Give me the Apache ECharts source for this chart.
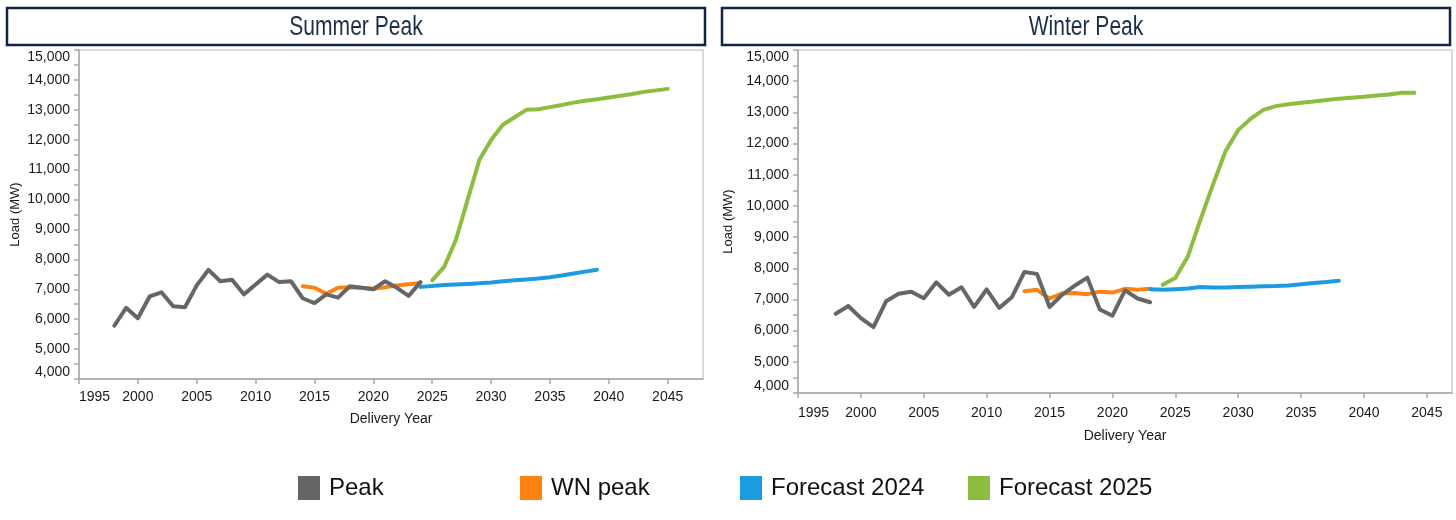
<!DOCTYPE html>
<html>
<head>
<meta charset="utf-8">
<script src="https://cdn.jsdelivr.net/npm/echarts@6/dist/echarts.min.js"></script>
<style>
  html, body { margin: 0; padding: 0; background: #fff; }
  #main { width: 1456px; height: 520px; }
</style>
</head>
<body>
<div id="main"></div>
<script>
// summer peak
var summerPeakYears = [1998,1999,2000,2001,2002,2003,2004,2005,2006,2007,2008,2009,2010,2011,2012,2013,2014,2015,2016,2017,2018,2019,2020,2021,2022,2023,2024];
var summerPeak = [5780,6380,6030,6760,6900,6430,6400,7130,7650,7270,7320,6830,7160,7490,7240,7270,6700,6540,6830,6720,7100,7050,7000,7270,7050,6780,7240];
var summerWnYears = [2014,2015,2016,2017,2018,2019,2020,2021,2022,2023,2024];
var summerWn = [7100,7050,6850,7050,7070,7050,7020,7070,7130,7170,7210];
var summerF24Years = [2024,2025,2026,2027,2028,2029,2030,2031,2032,2033,2034,2035,2036,2037,2038,2039];
var summerF24 = [7080,7110,7140,7160,7180,7200,7230,7270,7300,7330,7360,7400,7460,7530,7590,7650];
var summerF25Years = [2025,2026,2027,2028,2029,2030,2031,2032,2033,2034,2035,2036,2037,2038,2039,2040,2041,2042,2043,2044,2045];
var summerF25 = [7300,7740,8640,9980,11320,11990,12500,12750,13000,13020,13090,13160,13240,13300,13350,13410,13470,13530,13600,13650,13700];

// winter peak
var winterPeakYears = [1998,1999,2000,2001,2002,2003,2004,2005,2006,2007,2008,2009,2010,2011,2012,2013,2014,2015,2016,2017,2018,2019,2020,2021,2022,2023];
var winterPeak = [6540,6790,6400,6110,6940,7180,7250,7040,7550,7150,7390,6760,7320,6730,7070,7880,7820,6760,7150,7440,7700,6680,6480,7290,7030,6910];
var winterWnYears = [2013,2014,2015,2016,2017,2018,2019,2020,2021,2022,2023];
var winterWn = [7260,7310,7030,7200,7210,7170,7250,7220,7340,7310,7340];
var winterF24Years = [2023,2024,2025,2026,2027,2028,2029,2030,2031,2032,2033,2034,2035,2036,2037,2038];
var winterF24 = [7330,7310,7330,7350,7400,7380,7380,7400,7410,7420,7430,7450,7490,7530,7560,7600];
var winterF25Years = [2024,2025,2026,2027,2028,2029,2030,2031,2032,2033,2034,2035,2036,2037,2038,2039,2040,2041,2042,2043,2044];
var winterF25 = [7470,7690,8380,9560,10690,11760,12430,12800,13080,13200,13260,13310,13350,13400,13440,13470,13500,13540,13570,13630,13630];

var yearTicks = [1995,2000,2005,2010,2015,2020,2025,2030,2035,2040,2045];
var seriesNames = ['Peak', 'WN peak', 'Forecast 2024', 'Forecast 2025'];
var seriesColors = ['#666666', '#ff8210', '#1d9be1', '#8cbd3e'];
var panelTitles = ['Summer Peak', 'Winter Peak'];

var plain = "'Liberation Sans', Arial, sans-serif";

function pairs(xs, ys) {
    return xs.map(function (x, i) { return [x, ys[i]]; });
}

function xAxisOf(idx, max, nameGap, margin) {
    return {
        type: 'value', gridIndex: idx, min: 1995, max: max,
        name: 'Delivery Year', nameLocation: 'middle', nameGap: nameGap,
        nameTextStyle: { fontFamily: plain, fontSize: 14, color: '#1a1a1a' },
        axisLine: { show: true, lineStyle: { color: '#a8a8a8', width: 1.5 } },
        axisTick: { show: true, length: 5, customValues: yearTicks, lineStyle: { color: '#a8a8a8', width: 1.5 } },
        axisLabel: {
            customValues: yearTicks, margin: margin, alignMinLabel: 'left',
            fontFamily: plain, fontSize: 14, color: '#1a1a1a',
            formatter: function (v) { return String(v); }
        },
        splitLine: { show: false }
    };
}

function yAxisOf(idx, nameGap) {
    return {
        type: 'value', gridIndex: idx, min: 4000, max: 15000, interval: 1000,
        name: 'Load (MW)', nameLocation: 'middle', nameGap: nameGap, nameRotate: 90,
        nameTextStyle: { fontFamily: plain, fontSize: 13, color: '#1a1a1a' },
        axisLine: { show: true, lineStyle: { color: '#a8a8a8', width: 1.5 } },
        axisTick: { show: true, length: 5, lineStyle: { color: '#a8a8a8', width: 1.5 } },
        minorTick: { show: true, splitNumber: 2, length: 5, lineStyle: { color: '#a8a8a8', width: 1.5 } },
        axisLabel: {
            margin: 9, fontFamily: plain, fontSize: 14, color: '#1a1a1a',
            verticalAlignMaxLabel: 'top', verticalAlignMinLabel: 'bottom',
            formatter: function (v) { return v.toLocaleString('en-US'); }
        },
        splitLine: { show: false }
    };
}

function lineSeries(name, idx, data, z) {
    return {
        name: name, type: 'line', xAxisIndex: idx, yAxisIndex: idx,
        data: data, symbol: 'none', z: z,
        lineStyle: { width: 4, cap: 'round', join: 'round' },
        itemStyle: { color: seriesColors[seriesNames.indexOf(name)] }
    };
}

var legendLeft = [298, 520, 740, 968];
var legends = seriesNames.map(function (n, i) {
    return {
        data: [n], left: legendLeft[i], top: 476, icon: 'rect', padding: 0,
        itemWidth: 22, itemHeight: 24,
        textStyle: { fontFamily: plain, fontSize: 24, color: '#111', padding: [0, 0, 0, 4] }
    };
});

// title boxes, text squeezed sideways like a narrow face
var boxes = [[7, 8, 698, 37], [722, 8, 728, 37]];
var graphics = [];
boxes.forEach(function (b, i) {
    graphics.push({ type: 'rect', shape: { x: b[0], y: b[1], width: b[2], height: b[3] }, z: -1,
        style: { fill: '#fff', stroke: '#102443', lineWidth: 2.5 } });
    graphics.push({ type: 'text', x: b[0] + b[2] / 2, y: b[1] + b[3] / 2 + 1, scaleX: 0.78,
        style: { text: panelTitles[i], x: 0, y: 0, align: 'center', verticalAlign: 'middle',
                 font: "normal 27px 'Liberation Sans', Arial, sans-serif", fill: '#1c2e4a' } });
});

var chart = echarts.init(document.getElementById('main'), null, { renderer: 'canvas' });
chart.setOption({
    backgroundColor: '#fff',
    animation: false,
    color: seriesColors,
    graphic: graphics,
    legend: legends,
    grid: [
        { left: 79, top: 50, width: 624, height: 329, show: true, borderColor: '#cfcfcf', borderWidth: 1.5, backgroundColor: '#fff' },
        { left: 798, top: 50, width: 654, height: 343, show: true, borderColor: '#cfcfcf', borderWidth: 1.5, backgroundColor: '#fff' }
    ],
    xAxis: [xAxisOf(0, 2048, 33, 11), xAxisOf(1, 2047, 36, 13)],
    yAxis: [yAxisOf(0, 57), yAxisOf(1, 63)],
    series: [
        lineSeries('WN peak', 0, pairs(summerWnYears, summerWn), 2),
        lineSeries('Peak', 0, pairs(summerPeakYears, summerPeak), 3),
        lineSeries('Forecast 2024', 0, pairs(summerF24Years, summerF24), 2),
        lineSeries('Forecast 2025', 0, pairs(summerF25Years, summerF25), 2),
        lineSeries('WN peak', 1, pairs(winterWnYears, winterWn), 2),
        lineSeries('Peak', 1, pairs(winterPeakYears, winterPeak), 3),
        lineSeries('Forecast 2024', 1, pairs(winterF24Years, winterF24), 2),
        lineSeries('Forecast 2025', 1, pairs(winterF25Years, winterF25), 2)
    ]
});
</script>
</body>
</html>
